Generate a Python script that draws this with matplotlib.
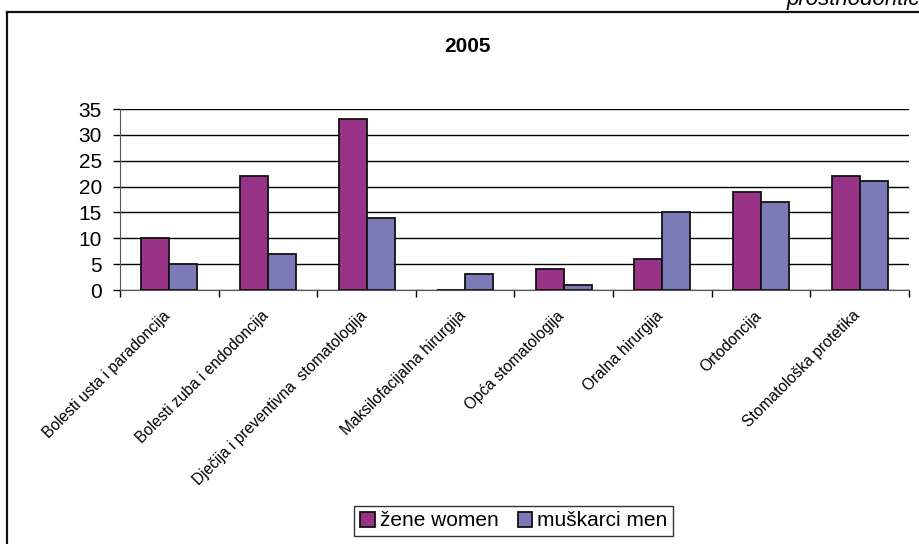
import numpy as np
import matplotlib
matplotlib.use("Agg")
import matplotlib.pyplot as plt
from matplotlib.lines import Line2D
from matplotlib.transforms import ScaledTranslation

plt.rcParams['font.family'] = ['Liberation Sans', 'DejaVu Sans']

categories = ["Bolesti usta i paradoncija", "Bolesti zuba i endodoncija",
              "Dječija i preventivna  stomatologija", "Maksilofacijalna hirurgija",
              "Opća stomatologija", "Oralna hirurgija", "Ortodoncija",
              "Stomatološka protetika"]
women = [10, 22, 33, 0, 4, 6, 19, 22]
men = [5, 7, 14, 3, 1, 15, 17, 21]
series_names = ["žene women", "muškarci men"]
yticks = [0, 5, 10, 15, 20, 25, 30, 35]

fig = plt.figure(figsize=(9.2, 5.44), dpi=100)
ax = fig.add_axes([120/920, 1 - 290/544, 789/920, 181/544])

x = np.arange(len(categories))
w = 0.284
ax.bar(x - w/2, women, w, color='#993388', edgecolor='#111111', linewidth=1.3,
       label=series_names[0], zorder=3)
ax.bar(x + w/2, men, w, color='#7b7bb8', edgecolor='#111111', linewidth=1.3,
       label=series_names[1], zorder=3)

ax.set_xlim(-0.5, len(categories) - 0.5)
ax.set_ylim(0, 35)
ax.set_yticks(yticks)
ax.tick_params(axis='y', labelsize=15, length=5, width=1, pad=8)
ax.yaxis.grid(True, color='black', linewidth=1, zorder=0)
ax.set_axisbelow(True)

ax.set_xticks(np.arange(len(categories) + 1) - 0.5)
ax.set_xticklabels([])
ax.tick_params(axis='x', length=5, width=1)
ax.set_xticks(x, minor=True)
ax.set_xticklabels(categories, minor=True, rotation=45, ha='right',
                   rotation_mode='anchor', fontsize=11.2)
ax.tick_params(axis='x', which='minor', length=0, pad=13)
shift = ScaledTranslation(-7/100, 0, fig.dpi_scale_trans)
for lab in ax.get_xticklabels(minor=True):
    lab.set_transform(lab.get_transform() + shift)

for s in ['top', 'right']:
    ax.spines[s].set_visible(False)
ax.spines['left'].set_color('#555555')
ax.spines['bottom'].set_color('#555555')

fig.text(468/920, 1 - 47/544, "2005", ha='center', va='center',
         fontsize=15, fontweight='bold')

leg = fig.legend(loc='center', bbox_to_anchor=(514/920, 1 - 521/544),
                 ncol=2, fontsize=15, frameon=True, fancybox=False,
                 edgecolor='black', handlelength=0.7, handleheight=0.7,
                 handletextpad=0.25, columnspacing=0.9, borderpad=0.28)
leg.get_frame().set_linewidth(1)

# outer frame, cropped on the right and bottom
fig.add_artist(Line2D([7/920, 7/920], [0, 1 - 12/544], color='#111111', linewidth=1.6))
fig.add_artist(Line2D([7/920, 1], [1 - 12/544, 1 - 12/544], color='#111111', linewidth=1.6))

fig.text(787/920, 1 - 5/544, "prosthodontics", ha='left', va='baseline',
         fontsize=16, style='italic')

fig.savefig("out.png", dpi=100)
